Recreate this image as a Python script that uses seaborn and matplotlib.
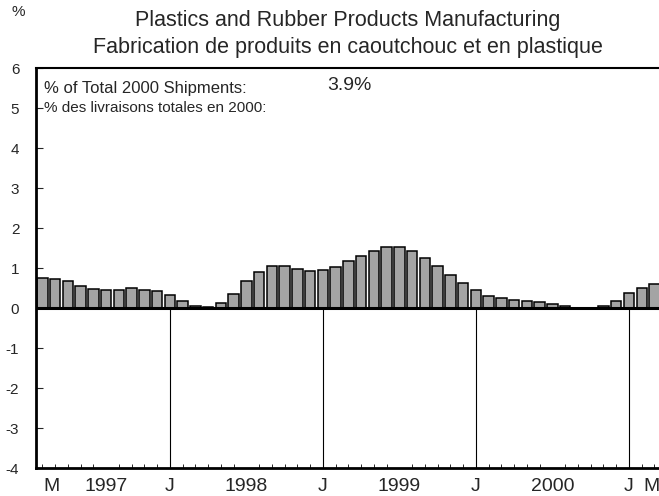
import numpy as np
import pandas as pd
import seaborn as sns
import matplotlib.pyplot as plt

# Valeurs mensuelles (%), mars 1997 -> mars 2001
mois = list(range(49))
valeurs = [0.75, 0.73, 0.67, 0.54, 0.48, 0.46, 0.46, 0.50, 0.46, 0.43,
           0.32, 0.17, 0.04, 0.03, 0.13, 0.36, 0.67, 0.91, 1.06, 1.06,
           0.97, 0.92, 0.94, 1.03, 1.17, 1.31, 1.43, 1.52, 1.52, 1.42,
           1.26, 1.06, 0.83, 0.62, 0.44, 0.31, 0.25, 0.21, 0.18, 0.14,
           0.10, 0.04, 0.01, 0.01, 0.05, 0.17, 0.37, 0.50, 0.60]

etiquettes_x = ['M', '1997', 'J', '1998', 'J', '1999', 'J', '2000', 'J', 'M']
positions_etiquettes = [0.7, 5, 10, 16, 22, 28, 34, 40, 46, 47.8]
lignes_janvier = [10, 22, 34, 46]

titre = 'Plastics and Rubber Products Manufacturing\nFabrication de produits en caoutchouc et en plastique'
part_2000 = '3.9%'

df = pd.DataFrame({'mois': mois, 'valeur': valeurs})

sns.set_style('white')
plt.rcParams['font.family'] = ['Liberation Sans', 'DejaVu Sans']

fig = plt.figure(figsize=(6.59, 4.96), dpi=100)
ax = fig.add_axes([36 / 659, 28 / 496, 644 / 659, 400 / 496])

sns.barplot(data=df, x='mois', y='valeur', color='#a4a4a4', saturation=1,
            width=0.82, edgecolor='black', linewidth=1.1, ax=ax)

# ligne du zero et lignes de janvier
ax.axhline(0, color='black', linewidth=2.2, zorder=3)
for xj in lignes_janvier:
    ax.plot([xj, xj], [-4, 0], color='black', linewidth=0.8)

ax.set_xlim(-0.5, 50)
ax.set_ylim(-4, 6)
ax.set_yticks(range(-4, 7))
ax.set_yticklabels([str(v) for v in range(-4, 7)], fontsize=11)
ax.set_xticks(positions_etiquettes)
ax.set_xticklabels(etiquettes_x, fontsize=14)
ax.set_xticks(mois, minor=True)
ax.tick_params(axis='x', which='major', length=0, pad=7)
ax.tick_params(axis='x', which='minor', direction='in', length=3, width=0.7, bottom=True)
ax.tick_params(axis='y', direction='in', length=5, width=0.8, left=True, pad=12)
ax.set_xlabel('')
ax.set_ylabel('')

for side in ['left', 'bottom', 'top']:
    ax.spines[side].set_color('black')
ax.spines['left'].set_linewidth(2)
ax.spines['bottom'].set_linewidth(2)
ax.spines['top'].set_linewidth(1.5)
ax.spines['right'].set_visible(False)

# textes
fig.text(348 / 659, 1 - 34 / 496, titre, ha='center', va='center', fontsize=15.5, linespacing=1.4)
fig.text(12 / 659, 1 - 12 / 496, '%', ha='left', va='center', fontsize=11)
ax.text(0.15, 5.5, '% of Total 2000 Shipments:', ha='left', va='center', fontsize=12)
ax.text(0.15, 5.0, '% des livraisons totales en 2000:', ha='left', va='center', fontsize=11)
ax.text(22.3, 5.55, part_2000, ha='left', va='center', fontsize=14)

plt.savefig('out.png', dpi=100)
